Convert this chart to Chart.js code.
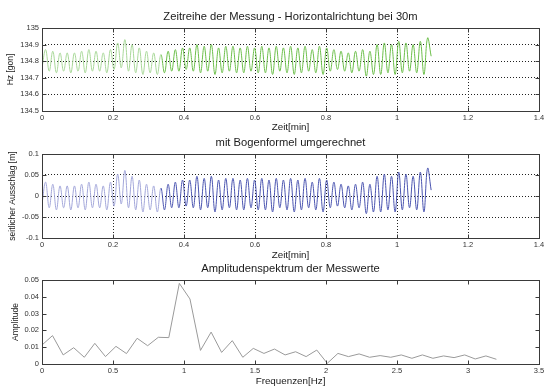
<!DOCTYPE html>
<html>
<head>
<meta charset="utf-8">
<script src="https://cdn.jsdelivr.net/npm/chart.js@4/dist/chart.umd.min.js"></script>
<style>
  html, body { margin: 0; padding: 0; background: #fff; }
  #wrap { position: relative; width: 547px; height: 387px; overflow: hidden; }
  .panel { position: absolute; left: 0; width: 547px; height: 135px; }
</style>
</head>
<body>
<div id="wrap">
  <div class="panel" style="top:0"><canvas id="hzChart" width="547" height="135"></canvas></div>
  <div class="panel" style="top:126px"><canvas id="ausschlagChart" width="547" height="135"></canvas></div>
  <div class="panel" style="top:252px"><canvas id="spektrumChart" width="547" height="135"></canvas></div>
</div>
<script>
const zeitSchritt = 0.01015; // min
const hzWerte = [
  134.76,
  134.87, 134.74, 134.86, 134.73, 134.85, 134.74, 134.85, 134.73, 134.85, 134.74,
  134.86, 134.73, 134.87, 134.74, 134.86, 134.74, 134.85, 134.73, 134.87, 134.75,
  134.91, 134.76, 134.93, 134.74, 134.90, 134.73, 134.88, 134.72, 134.86, 134.73,
  134.85, 134.72, 134.84, 134.73, 134.86, 134.74, 134.87, 134.74, 134.88, 134.75,
  134.88, 134.74, 134.90, 134.73, 134.89, 134.74, 134.90, 134.72, 134.88, 134.73,
  134.89, 134.74, 134.89, 134.73, 134.88, 134.73, 134.89, 134.74, 134.88, 134.73,
  134.89, 134.73, 134.88, 134.72, 134.89, 134.74, 134.88, 134.73, 134.89, 134.72,
  134.88, 134.73, 134.89, 134.74, 134.87, 134.73, 134.89, 134.72, 134.88, 134.74,
  134.87, 134.75, 134.86, 134.74, 134.85, 134.73, 134.86, 134.74, 134.87, 134.71,
  134.86, 134.72, 134.90, 134.72, 134.91, 134.73, 134.90, 134.72, 134.92, 134.73,
  134.91, 134.74, 134.90, 134.73, 134.92, 134.72, 134.94, 134.83
];
const ausschlagWerte = [
  -0.019,
  0.033, -0.028, 0.028, -0.033, 0.024, -0.028, 0.024, -0.033, 0.024, -0.028,
  0.028, -0.033, 0.033, -0.028, 0.028, -0.028, 0.024, -0.033, 0.033, -0.024,
  0.052, -0.019, 0.061, -0.028, 0.047, -0.033, 0.038, -0.038, 0.028, -0.033,
  0.024, -0.038, 0.019, -0.033, 0.028, -0.028, 0.033, -0.028, 0.038, -0.024,
  0.038, -0.028, 0.047, -0.033, 0.042, -0.028, 0.047, -0.038, 0.038, -0.033,
  0.042, -0.028, 0.042, -0.033, 0.038, -0.033, 0.042, -0.028, 0.038, -0.033,
  0.042, -0.033, 0.038, -0.038, 0.042, -0.028, 0.038, -0.033, 0.042, -0.038,
  0.038, -0.033, 0.042, -0.028, 0.033, -0.033, 0.042, -0.038, 0.038, -0.028,
  0.033, -0.024, 0.028, -0.028, 0.024, -0.033, 0.028, -0.028, 0.033, -0.042,
  0.028, -0.038, 0.047, -0.038, 0.052, -0.033, 0.047, -0.038, 0.057, -0.033,
  0.052, -0.028, 0.047, -0.033, 0.057, -0.038, 0.066, 0.014
];

// Spektrum
const frequenzen = [
  0, 0.074, 0.149, 0.223, 0.298, 0.372, 0.447, 0.521, 0.595, 0.670, 0.744,
  0.819, 0.893, 0.967, 1.042, 1.116, 1.191, 1.265, 1.340, 1.414, 1.488,
  1.563, 1.637, 1.712, 1.786, 1.860, 1.935, 2.009, 2.084, 2.158, 2.233,
  2.307, 2.381, 2.456, 2.530, 2.605, 2.679, 2.753, 2.828, 2.902, 2.977,
  3.051, 3.126, 3.200
];
const amplituden = [
  0.0113, 0.0169, 0.0054, 0.0097, 0.0040, 0.0123, 0.0044, 0.0105, 0.0062, 0.0153, 0.0109,
  0.0159, 0.0157, 0.0480, 0.0387, 0.0081, 0.0190, 0.0069, 0.0139, 0.0040, 0.0093,
  0.0063, 0.0089, 0.0054, 0.0073, 0.0044, 0.0083, 0.0004, 0.0063, 0.0044, 0.0060,
  0.0040, 0.0050, 0.0040, 0.0054, 0.0034, 0.0054, 0.0034, 0.0048, 0.0038, 0.0054,
  0.0030, 0.0048, 0.0028
];

// Achsenbeschriftung
const zeitTicks = [0, 0.2, 0.4, 0.6, 0.8, 1, 1.2, 1.4];
const hzTicks = [134.5, 134.6, 134.7, 134.8, 134.9, 135];
const ausschlagTicks = [-0.1, -0.05, 0, 0.05, 0.1];
const freqTicks = [0, 0.5, 1, 1.5, 2, 2.5, 3, 3.5];
const ampTicks = [0, 0.01, 0.02, 0.03, 0.04, 0.05];

const schrift = '"Liberation Sans", Arial, sans-serif';
const fmt = (v) => String(Number(Number(v).toFixed(4)));

// Rahmen, Innen-Ticks und Titel wie in MATLAB
const rahmenPlugin = {
  id: 'rahmen',
  afterDatasetsDraw(chart, args, opts) {
    const { ctx, chartArea: a, scales: { x, y } } = chart;
    const l = Math.round(a.left) + 0.5, r = Math.round(a.right) + 0.5;
    const t = Math.round(a.top) + 0.5, b = Math.round(a.bottom) + 0.5;
    ctx.save();
    ctx.strokeStyle = '#3a3a3a';
    ctx.lineWidth = 1;
    ctx.beginPath();
    x.ticks.forEach((tk) => {
      const px = Math.round(x.getPixelForValue(tk.value)) + 0.5;
      ctx.moveTo(px, b); ctx.lineTo(px, b - 4);
      ctx.moveTo(px, t); ctx.lineTo(px, t + 4);
    });
    y.ticks.forEach((tk) => {
      const py = Math.round(y.getPixelForValue(tk.value)) + 0.5;
      ctx.moveTo(l, py); ctx.lineTo(l + 4, py);
      ctx.moveTo(r, py); ctx.lineTo(r - 4, py);
    });
    ctx.stroke();
    ctx.strokeRect(l, t, r - l, b - t);
    ctx.fillStyle = '#1a1a1a';
    ctx.font = `11.2px ${schrift}`;
    ctx.textAlign = 'center';
    ctx.textBaseline = 'middle';
    ctx.fillText(opts.text, (a.left + a.right) / 2, a.top - 11);
    ctx.restore();
  }
};

function makeOptions({ titel, xMin, xMax, xTicks, xTitel, xPad, xHoehe, yMin, yMax, yTicks, yTitel, yPad, gitter }) {
  const gridOpts = gitter
    ? { display: true, color: '#222', lineWidth: 1, drawTicks: false }
    : { display: false, drawTicks: false };
  return {
    responsive: false,
    animation: false,
    layout: { padding: { top: 28, right: 8, left: 0, bottom: 0 } },
    scales: {
      x: {
        type: 'linear', min: xMin, max: xMax,
        afterBuildTicks: (s) => { s.ticks = xTicks.map((v) => ({ value: v })); },
        afterFit: (s) => { s.height = xHoehe; },
        grid: gridOpts,
        border: { display: false, dash: [1, 2] },
        ticks: { padding: 2, color: '#333', font: { family: schrift, size: 7.5 }, maxRotation: 0, callback: fmt },
        title: { display: true, text: xTitel, color: '#1a1a1a', font: { family: schrift, size: 9.8 }, padding: { top: 0, bottom: xPad } }
      },
      y: {
        type: 'linear', min: yMin, max: yMax,
        afterBuildTicks: (s) => { s.ticks = yTicks.map((v) => ({ value: v })); },
        afterFit: (s) => { s.width = 42; },
        grid: gridOpts,
        border: { display: false, dash: [1, 2] },
        ticks: { padding: 3, color: '#333', font: { family: schrift, size: 7.5 }, callback: fmt },
        title: { display: true, text: yTitel, color: '#1a1a1a', font: { family: schrift, size: 8.5 }, padding: { top: yPad, bottom: 0 } }
      }
    },
    plugins: {
      legend: { display: false },
      tooltip: { enabled: false },
      rahmen: { text: titel }
    }
  };
}

function zeitDaten(werte) {
  return werte.map((w, i) => ({ x: i * zeitSchritt, y: w }));
}

new Chart(document.getElementById('hzChart'), {
  type: 'line',
  data: {
    datasets: [{
      data: zeitDaten(hzWerte),
      borderWidth: 1,
      pointRadius: 0,
      tension: 0.4,
      borderColor: '#6cbf4a',
      segment: { borderColor: (c) => c.p0.parsed.x < 0.33 ? '#a8d898' : '#6cbf4a' }
    }]
  },
  options: makeOptions({
    titel: 'Zeitreihe der Messung - Horizontalrichtung bei 30m',
    xMin: 0, xMax: 1.4, xTicks: zeitTicks, xTitel: 'Zeit[min]', xPad: 2, xHoehe: 24,
    yMin: 134.5, yMax: 135, yTicks: hzTicks, yTitel: 'Hz [gon]', yPad: 6, gitter: true
  }),
  plugins: [rahmenPlugin]
});

new Chart(document.getElementById('ausschlagChart'), {
  type: 'line',
  data: {
    datasets: [{
      data: zeitDaten(ausschlagWerte),
      borderWidth: 1,
      pointRadius: 0,
      tension: 0.4,
      borderColor: '#4a54b0',
      segment: { borderColor: (c) => c.p0.parsed.x < 0.33 ? '#a3a7da' : '#4a54b0' }
    }]
  },
  options: makeOptions({
    titel: 'mit Bogenformel umgerechnet',
    xMin: 0, xMax: 1.4, xTicks: zeitTicks, xTitel: 'Zeit[min]', xPad: 0, xHoehe: 23,
    yMin: -0.1, yMax: 0.1, yTicks: ausschlagTicks, yTitel: 'seitlicher Ausschlag [m]', yPad: 8, gitter: true
  }),
  plugins: [rahmenPlugin]
});

new Chart(document.getElementById('spektrumChart'), {
  type: 'line',
  data: {
    datasets: [{
      data: frequenzen.map((f, i) => ({ x: f, y: amplituden[i] })),
      borderWidth: 1,
      pointRadius: 0,
      tension: 0,
      borderColor: '#9a9a9a'
    }]
  },
  options: makeOptions({
    titel: 'Amplitudenspektrum der Messwerte',
    xMin: 0, xMax: 3.5, xTicks: freqTicks, xTitel: 'Frequenzen[Hz]', xPad: 0, xHoehe: 23,
    yMin: 0, yMax: 0.05, yTicks: ampTicks, yTitel: 'Amplitude', yPad: 11, gitter: false
  }),
  plugins: [rahmenPlugin]
});
</script>
</body>
</html>
